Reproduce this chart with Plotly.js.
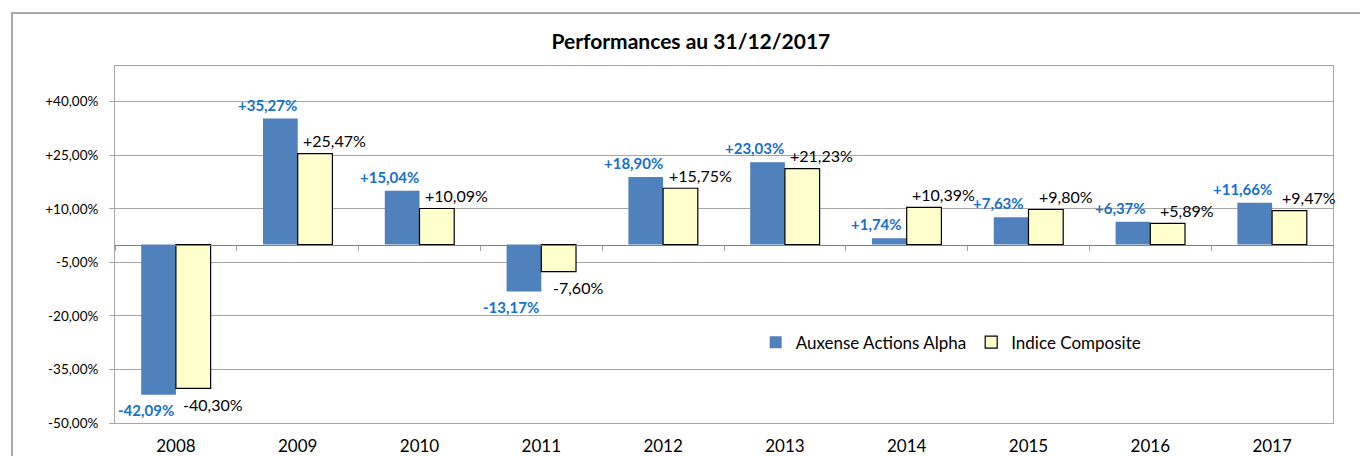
<!DOCTYPE html>
<html>
<head>
<meta charset="utf-8">
<script src="https://cdn.plot.ly/plotly-3.0.1.min.js"></script>
<style>
  html, body { margin:0; padding:0; background:#fff; overflow:hidden; }
  #frame { position:absolute; left:11px; top:12px; width:1420px; height:520px; border:2px solid #a9a9a9; box-sizing:border-box; pointer-events:none; }
  #chart { position:absolute; left:0; top:0; width:1360px; height:456px; }
  #err { position:absolute; left:20px; top:20px; color:red; font:12px sans-serif; }
</style>
</head>
<body>
<div id="frame"></div>
<div id="chart"></div>
<div id="err"></div>
<script>
window.onerror = function(m){ document.getElementById('err').textContent += ' ' + m; };
// ---- data ----
const years = ['2008','2009','2010','2011','2012','2013','2014','2015','2016','2017'];
const alpha = [-42.09, 35.27, 15.04, -13.17, 18.90, 23.03, 1.74, 7.63, 6.37, 11.66];
const indice = [-40.30, 25.47, 10.09, -7.60, 15.75, 21.23, 10.39, 9.80, 5.89, 9.47];
const seriesNames = ['Auxense Actions Alpha', 'Indice Composite'];
const yTickVals = [-50, -35, -20, -5, 10, 25, 40];
const yTickText = ['-50,00%', '-35,00%', '-20,00%', '-5,00%', '+10,00%', '+25,00%', '+40,00%'];
const titleText = 'Performances au 31/12/2017';

function fmt(v) {
  const s = Math.abs(v).toFixed(2).replace('.', ',');
  return (v >= 0 ? '+' : '-') + s + '%';
}

const FONT = 'Lato, "Open Sans", sans-serif';
const GRID = '#a6a6a6';

const traces = [
  { type:'bar', name:seriesNames[0], x:years, y:alpha,
    marker:{ color:'#4F81BD', line:{ width:0 } }, hoverinfo:'skip' },
  { type:'bar', name:seriesNames[1], x:years, y:indice,
    marker:{ color:'#FFFFCC', line:{ color:'#000', width:1.2 } }, hoverinfo:'skip' },
  { type:'scatter', x:years, y:years.map(() => null), xaxis:'x2', yaxis:'y',
    showlegend:false, hoverinfo:'skip', mode:'markers' }
];

const annotations = [];
years.forEach((yr, i) => {
  const a = alpha[i], b = indice[i];
  annotations.push({ x:i, y:a, xref:'x', yref:'y', text:'<b>' + fmt(a) + '</b>', showarrow:false,
    xshift:-30, yshift:(a >= 0 ? 14 : -15), yanchor:'middle',
    font:{ family:FONT, size:15, color:'#1570D0' } });
  annotations.push({ x:i, y:b, xref:'x', yref:'y', text:fmt(b), showarrow:false,
    xshift:37, yshift:(b >= 0 ? 13 : -16), yanchor:'middle',
    font:{ family:FONT, size:16, color:'#000' } });
});

const layout = {
  width:1360, height:456,
  margin:{ l:115, r:27, t:66, b:33 },
  paper_bgcolor:'rgba(0,0,0,0)', plot_bgcolor:'#fff',
  font:{ family:FONT, color:'#000' },
  title:{ text:'<b>' + titleText + '</b>', x:0.508, xref:'container', y:1 - 42/456, yref:'container',
    yanchor:'middle', font:{ family:FONT, size:21, color:'#000' } },
  barmode:'group', bargap:0.43, bargroupgap:0,
  showlegend:true,
  legend:{ orientation:'h', x:0.526, y:0.225, xanchor:'left', yanchor:'middle',
    bgcolor:'rgba(0,0,0,0)', font:{ family:FONT, size:17, color:'#000' },
    itemwidth:30, tracegroupgap:0 },
  xaxis:{ type:'category', range:[-0.5, 9.5], showgrid:false, zeroline:false,
    showline:true, mirror:true, linecolor:GRID, linewidth:1, ticks:'',
    ticklabelstandoff:8, tickfont:{ family:FONT, size:17, color:'#000' }, fixedrange:true },
  xaxis2:{ type:'category', overlaying:'x', anchor:'free', position:0.5, range:[-0.5, 9.5],
    showgrid:false, zeroline:false, showline:true, linecolor:'#7f7f7f', linewidth:1.2,
    ticks:'outside', tickson:'boundaries', ticklen:5, tickcolor:'#a0a0a0',
    showticklabels:false, side:'bottom' },
  yaxis:{ range:[-50, 50], tickmode:'array', tickvals:yTickVals, ticktext:yTickText,
    showgrid:true, gridcolor:GRID, gridwidth:1, zeroline:false,
    showline:true, mirror:true, linecolor:GRID, linewidth:1,
    ticks:'outside', ticklen:5, tickcolor:GRID, ticklabelstandoff:8,
    tickfont:{ family:FONT, size:13.5, color:'#000' }, fixedrange:true },
  annotations:annotations
};

Plotly.newPlot('chart', traces, layout, { displayModeBar:false, staticPlot:true })
  .catch(function(e){ document.getElementById('err').textContent += ' ' + e; });
</script>
</body>
</html>
